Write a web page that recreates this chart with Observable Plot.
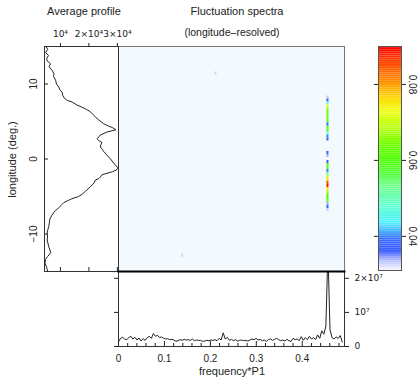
<!DOCTYPE html>
<html><head><meta charset="utf-8">
<script src="https://cdn.jsdelivr.net/npm/d3@7"></script>
<script src="https://cdn.jsdelivr.net/npm/@observablehq/plot@0.6"></script>
<style>
body{margin:0;background:#fff;}
#wrap{position:relative;width:420px;height:389px;font-family:"Liberation Sans",Arial,sans-serif;color:#222;overflow:hidden}
#wrap svg{position:absolute;left:0;top:0;}
.t{position:absolute;font-size:11px;line-height:11px;white-space:nowrap;transform:translate(-50%,0)}
</style></head><body><div id="wrap"></div><script>
// ---------- data ----------
// average profile (longitude in deg, value)
const profLon = [15.0,14.6,14.2,13.8,13.4,13.1,12.7,12.3,11.8,11.4,11.0,10.5,10.0,9.6,9.2,8.9,8.5,8.1,7.8,7.6,7.2,6.9,6.6,6.3,5.9,5.6,5.2,4.7,4.4,4.2,3.9,3.6,3.2,2.7,2.5,2.2,1.9,1.6,1.3,1.0,0.5,0.0,-0.4,-0.8,-1.2,-1.5,-1.7,-2.1,-2.4,-2.6,-2.8,-3.2,-3.7,-4.3,-4.7,-5.0,-5.3,-5.5,-5.8,-6.2,-6.5,-6.8,-7.1,-7.5,-8.0,-8.5,-9.0,-9.5,-9.9,-10.4,-10.8,-11.2,-11.6,-12.0,-12.5,-13.0,-13.4,-13.9,-14.5,-15.0];
const profVal = [5000,5500,4800,5800,5200,5300,6500,6000,7100,7700,7600,8300,8600,9400,9800,10600,10800,11400,12500,14100,15800,17600,19200,20500,21500,22300,23500,25200,26800,28200,29500,26400,24000,22900,23300,24600,24200,24000,24700,25200,26400,27600,28400,29300,30300,29500,28200,24600,24000,23500,22300,21800,20500,18800,17600,16400,14000,12900,11200,10200,9400,8500,7700,7000,6300,6100,5900,5500,5300,5500,5300,5600,5800,6200,6600,5500,4700,4600,5200,5500];
const profTicks = [10000,20000,30000];
const profTickLabels = ["10\u2074","2\u00d710\u2074","3\u00d710\u2074"];
const lonTicks = [-10,0,10];

// power spectrum (summed), evenly sampled in frequency*P1
const specStep = 0.00447;
const specVal = [0.14,0.24,0.27,0.22,0.20,0.26,0.30,0.22,0.27,0.19,0.25,0.16,0.23,0.18,0.26,0.30,0.24,0.38,0.30,0.33,
 0.26,0.28,0.24,0.22,0.23,0.20,0.21,0.19,0.15,0.17,0.20,0.18,0.21,0.19,0.20,0.18,0.22,0.17,0.19,0.18,
 0.18,0.15,0.16,0.18,0.17,0.19,0.18,0.20,0.17,0.24,0.19,0.40,0.22,0.27,0.18,0.21,0.17,0.20,0.16,0.18,
 0.19,0.17,0.18,0.16,0.19,0.22,0.20,0.24,0.19,0.21,0.17,0.19,0.15,0.20,0.22,0.18,0.21,0.24,0.20,0.17,
 0.19,0.16,0.21,0.17,0.15,0.24,0.20,0.22,0.17,0.29,0.18,0.26,0.20,0.30,0.22,0.26,0.20,0.34,0.24,0.46,
 0.36,0.60,2.80,0.50,0.26,0.22,0.28,0.24,0.32,0.13]; // x 1e7
const specTicks = [0,1e7,2e7];
const specTickLabels = ["0","10\u2077","2\u00d710\u2077"];
const freqTicks = [0,0.1,0.2,0.3,0.4];
const freqMinorTicks = [0.02,0.04,0.06,0.08,0.12,0.14,0.16,0.18,0.22,0.24,0.26,0.28,0.32,0.34,0.36,0.38,0.42,0.44,0.46,0.48];

// longitude-resolved fluctuation spectrum: non-background cells
const cellFreq = 0.456;
const cellLon = [8.2,7.8,7.4,7.0,6.6,6.2,5.8,5.4,5.0,4.6,4.2,3.8,3.4,3.0,2.6,0.8,0.4,-0.4,-0.8,-1.2,-1.6,-2.0,-2.4,-2.8,-3.2,-3.6,-4.0,-4.4,-4.8,-5.2,-5.6,-6.0,-6.4,-6.8];
const cellVal = [0.033,0.038,0.045,0.072,0.065,0.062,0.064,0.060,0.058,0.039,0.062,0.058,0.050,0.040,0.036,0.038,0.034,0.039,0.062,0.058,0.040,0.052,0.070,0.076,0.085,0.088,0.075,0.068,0.062,0.060,0.057,0.034,0.039,0.033];
const spotFreq = [0.212,0.140];
const spotLon = [11.4,-12.9];
const spotVal = [0.0325,0.0325];
const cellDLon = 0.4;
const cbTicks = [0.04,0.06,0.08];

// colour table
const colorDomain = [0.031,0.0335,0.036,0.039,0.041,0.0435,0.048,0.053,0.058,0.063,0.068,0.073,0.077,0.080,0.084,0.088,0.090];
const colorRange = ["#f8f8ff","#b8c0ff","#4060ff","#3868ff","#4aa8ff","#50f0ff","#60ffd0","#70ff90","#50ff20","#60ff00","#b0ff10","#f0ff10","#ffd000","#ff9a00","#ff6000","#ff2000","#ff0000"];

// ---------- build ----------
const profile = profLon.map((lon,i)=>({lon, v: profVal[i]}));
const spec = specVal.map((v,i)=>({f: i*specStep, p: v*1e7}));
const cells = cellLon.map((lon,i)=>({f: cellFreq, lon, v: cellVal[i]}))
  .concat(spotFreq.map((f,i)=>({f, lon: spotLon[i], v: spotVal[i]})));
const cbSteps = d3.range(colorDomain[0], colorDomain[colorDomain.length-1], 0.0005);

const W = 420, H = 389;
const FONT = "Liberation Sans, Arial, sans-serif";
const SUPFONT = "DejaVu Sans, Liberation Sans, sans-serif";
const color = {type:"linear", domain: colorDomain, range: colorRange, clamp:true};
const base = {width:W, height:H, style:{background:"transparent", fontFamily:FONT, fontSize:"10px", color:"#222", overflow:"visible"}};
const wrap = document.getElementById("wrap");

// heatmap
const heat = Plot.plot({...base,
  marginLeft:118, marginRight:76, marginTop:46, marginBottom:118,
  x:{domain:[0,0.492], axis:null}, y:{domain:[-15,15], axis:null}, color,
  marks:[
    Plot.frame({fill:"#f4f9fd", stroke:null}),
    Plot.rect(cells, {x1:d=>d.f-specStep/2, x2:d=>d.f+specStep/2, y1:d=>d.lon-cellDLon/2, y2:d=>d.lon+cellDLon/2, fill:"v"}),
    Plot.frame({stroke:"#777", strokeWidth:1})
  ]});
wrap.appendChild(heat);

// profile
const prof = Plot.plot({...base,
  marginLeft:44, marginRight:302, marginTop:46, marginBottom:118,
  x:{domain:[4400,30400]}, y:{domain:[-15,15]},
  marks:[
    Plot.frame({stroke:"#333"}),
    Plot.axisX({anchor:"top", ticks:profTicks, tickSize:4, tickPadding:6, tickFormat:d=>profTickLabels[profTicks.indexOf(d)], label:null, fontSize:9, fontFamily:SUPFONT}),
    Plot.axisX({anchor:"bottom", ticks:profTicks, tickSize:-4, tickFormat:()=>"", label:null}),
    Plot.axisY({anchor:"left", ticks:lonTicks, tickSize:-4, tickPadding:12, tickRotate:-90, textAnchor:"middle", lineAnchor:"bottom", tickFormat:d=>d<0?"\u2212"+Math.abs(d):String(d), label:null, fontSize:10}),
    Plot.lineX(profile, {x:"v", y:"lon", stroke:"#222", strokeWidth:1})
  ]});
wrap.appendChild(prof);

// spectrum
const sp = Plot.plot({...base,
  marginLeft:118, marginRight:76, marginTop:271, marginBottom:43,
  x:{domain:[0,0.492]}, y:{domain:[0,2.2e7]},
  marks:[
    Plot.line(spec, {x:"f", y:"p", stroke:"#222", strokeWidth:1, clip:true}),
    Plot.frame({stroke:"#333"}),
    Plot.frame({anchor:"top", stroke:"#000", strokeWidth:2}),
    Plot.axisX({anchor:"bottom", ticks:freqTicks, tickSize:-5, tickPadding:13, tickFormat:d=>String(d), label:null, fontSize:10}),
    Plot.axisX({anchor:"bottom", ticks:freqMinorTicks, tickSize:-3, tickFormat:()=>"", label:null}),
    Plot.axisY({anchor:"right", ticks:specTicks, tickSize:4, tickPadding:6, tickFormat:d=>specTickLabels[specTicks.indexOf(d)], label:null, fontSize:9, fontFamily:SUPFONT}),
    Plot.axisY({anchor:"left", ticks:specTicks, tickSize:4, tickFormat:()=>"", label:null})
  ]});
wrap.appendChild(sp);

// colour bar
const cb = Plot.plot({...base,
  marginLeft:378, marginRight:19, marginTop:46, marginBottom:119,
  y:{domain:[colorDomain[0], colorDomain[colorDomain.length-1]]}, color,
  marks:[
    Plot.rect(cbSteps, {y1:d=>d, y2:d=>d+0.0005, fill:d=>d+0.00025}),
    Plot.frame({stroke:"#555"}),
    Plot.axisY({anchor:"left", ticks:cbTicks, tickSize:4, tickFormat:()=>"", label:null}),
    Plot.axisY({anchor:"right", ticks:cbTicks, tickSize:4, tickPadding:3, tickRotate:90, textAnchor:"middle", lineAnchor:"bottom", tickFormat:d=>d.toFixed(2), label:null, fontSize:10})
  ]});
wrap.appendChild(cb);

// texts
function label(txt, x, top, extra){
  const d = document.createElement("div");
  d.className = "t"; d.textContent = txt;
  d.style.left = x+"px"; d.style.top = top+"px";
  if (extra) Object.assign(d.style, extra);
  wrap.appendChild(d);
}
label("Average profile", 84, 6);
label("Fluctuation spectra", 237, 6);
label("(longitude\u2013resolved)", 232, 27, {fontSize:"10.5px"});
label("frequency*P1", 232, 366);
label("longitude (deg.)", 12, 154, {transform:"translate(-50%,0) rotate(-90deg)", transformOrigin:"50% 50%"});
</script></body></html>
